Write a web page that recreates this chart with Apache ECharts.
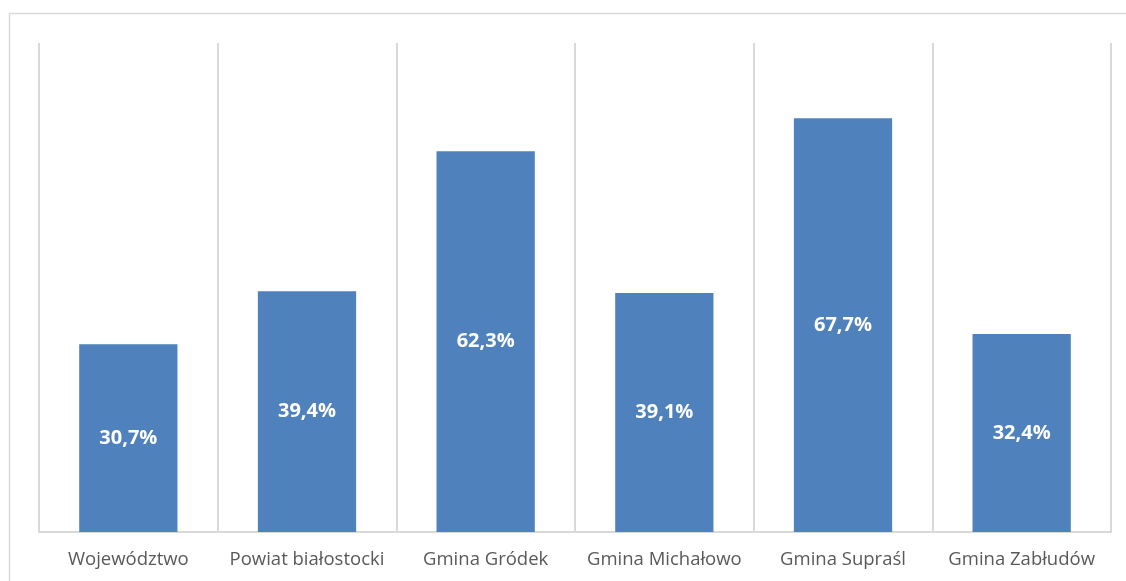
<!DOCTYPE html>
<html><head><meta charset="utf-8">
<script src="https://cdn.jsdelivr.net/npm/echarts@6/dist/echarts.min.js"></script>
<style>html,body{margin:0;padding:0;background:#fff}#c{width:1126px;height:581px}</style>
</head><body><div id="c"></div>
<script>
const categories = ["Województwo","Powiat białostocki","Gmina Gródek","Gmina Michałowo","Gmina Supraśl","Gmina Zabłudów"];
const values = [30.7, 39.4, 62.3, 39.1, 67.7, 32.4];

const chart = echarts.init(document.getElementById('c'), null, {renderer:'canvas'});
chart.setOption({
  animation:false,
  graphic:[{type:'rect',shape:{x:9.5,y:13.5,width:1130,height:600},style:{fill:null,stroke:'#d9d9d9',lineWidth:1.5},silent:true,z:-1}],
  grid:{left:39,right:15,top:43,bottom:49},
  xAxis:{type:'category',data:categories,
    axisLine:{lineStyle:{color:'#d9d9d9',width:2}},
    axisTick:{show:false},
    splitLine:{show:true,lineStyle:{color:'#d9d9d9',width:2}},
    axisLabel:{color:'#595959',fontSize:18.5,fontFamily:'Open Sans',margin:18,interval:0}},
  yAxis:{type:'value',min:0,max:80,show:false,splitLine:{show:false}},
  series:[{type:'bar',data:values,barWidth:'55%',
    itemStyle:{color:'#4f81bd'},
    label:{show:true,position:'inside',color:'#fff',fontWeight:'bold',fontSize:20,fontFamily:'Open Sans',
      formatter:p=>p.value.toFixed(1).replace('.',',')+'%'}}]
});
</script></body></html>
